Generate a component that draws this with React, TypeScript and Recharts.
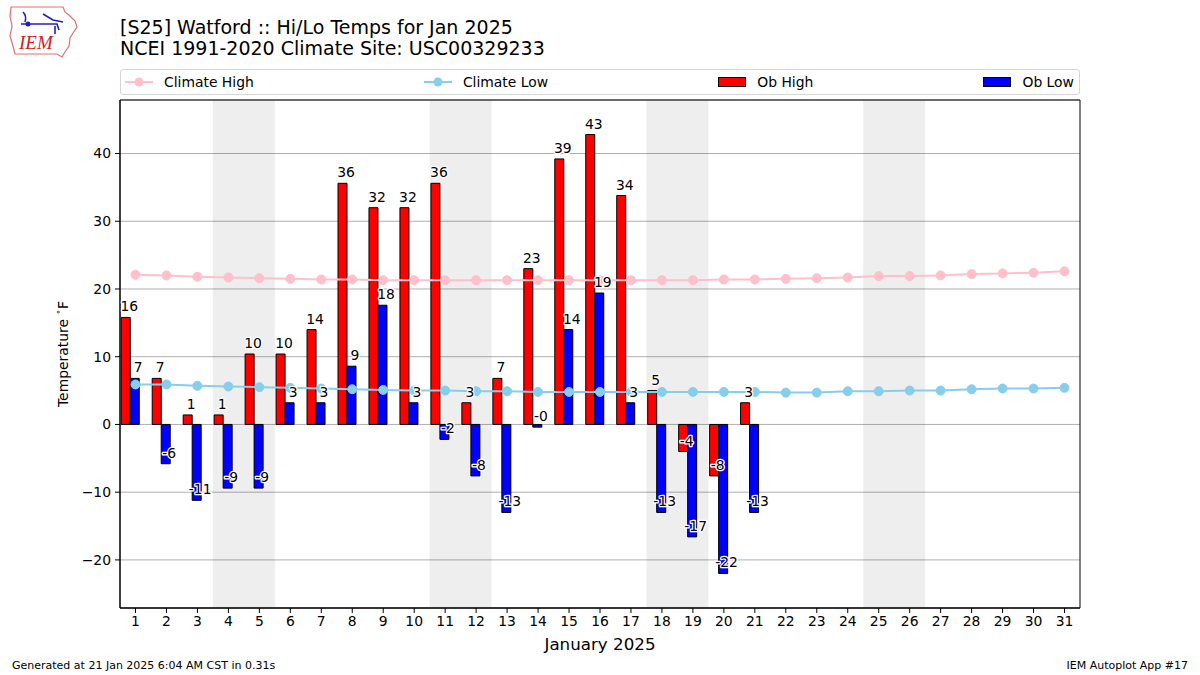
import React from "react";
import { ComposedChart, Bar, Line, XAxis, YAxis, CartesianGrid, ReferenceArea, LabelList } from "recharts";

const FONT = '"DejaVu Sans", sans-serif';

// days of January 2025
const days = [1, 2, 3, 4, 5, 6, 7, 8, 9, 10, 11, 12, 13, 14, 15, 16, 17, 18, 19, 20, 21, 22, 23, 24, 25, 26, 27, 28, 29, 30, 31];
// observed highs / lows (F), only up to the 21st
const obHigh = [15.8, 6.8, 1.4, 1.4, 10.4, 10.4, 14.0, 35.6, 32.0, 32.0, 35.6, 3.2, 6.8, 23.0, 39.2, 42.8, 33.8, 5.0, -4.0, -7.6, 3.2];
const obLow = [6.8, -5.8, -11.2, -9.4, -9.4, 3.2, 3.2, 8.6, 17.6, 3.2, -2.2, -7.6, -13.0, -0.4, 14.0, 19.4, 3.2, -13.0, -16.6, -22.0, -13.0];
// NCEI 1991-2020 normals
const climHigh = [22.1, 22.0, 21.8, 21.7, 21.6, 21.5, 21.4, 21.4, 21.3, 21.3, 21.3, 21.3, 21.3, 21.3, 21.3, 21.3, 21.3, 21.3, 21.3, 21.4, 21.4, 21.5, 21.6, 21.7, 21.9, 21.9, 22.0, 22.2, 22.3, 22.4, 22.6];
const climLow = [5.9, 5.9, 5.7, 5.6, 5.5, 5.4, 5.3, 5.2, 5.1, 5.0, 5.0, 4.9, 4.9, 4.8, 4.8, 4.8, 4.8, 4.8, 4.8, 4.8, 4.8, 4.7, 4.7, 4.9, 4.9, 5.0, 5.0, 5.2, 5.3, 5.3, 5.4];
// weekend shading
const weekends = [[4, 5], [11, 12], [18, 19], [25, 26]];
const yTicks = [-20, -10, 0, 10, 20, 30, 40];
const yDomain = [-27.1, 47.9];

const data = days.map((d, i) => ({
  day: d,
  obHigh: obHigh[i] ?? null,
  obLow: obLow[i] ?? null,
  climHigh: climHigh[i],
  climLow: climLow[i],
}));

const fmtTick = (v: number) => (v < 0 ? "\u2212" + Math.abs(v) : String(v));

const barLabel = (props: any) => {
  const { x, y, width, height, value } = props;
  if (value === null || value === undefined) return null;
  const v = Number(value);
  const top = Math.min(y, y + height);
  const bottom = Math.max(y, y + height);
  const vy = v >= 0 ? top : bottom;
  return (
    <text
      x={x + width - 1}
      y={vy - 6}
      textAnchor="middle"
      fontSize={13.9}
      fontFamily={FONT}
      fontWeight="normal"
      fill="#000"
      stroke="#fff"
      strokeWidth={2.5}
      strokeLinejoin="round"
      style={{ paintOrder: "stroke" }}
    >
      {v.toFixed(0)}
    </text>
  );
};

const YLabel = (props: any) => {
  const vb = props.viewBox || {};
  const cx = 63;
  const cy = vb.y + vb.height / 2;
  return (
    <text
      x={cx}
      y={cy}
      transform={`rotate(-90 ${cx} ${cy})`}
      textAnchor="middle"
      dominantBaseline="central"
      fontSize={13.9}
      fontFamily={FONT}
      fill="#000"
    >
      Temperature <tspan fontSize={9} dy={-5}>∘</tspan><tspan dy={5}>F</tspan>
    </text>
  );
};

const LineKey = ({ color }: { color: string }) => (
  <svg width={28} height={12} style={{ display: "block" }}>
    <line x1={0} y1={6} x2={28} y2={6} stroke={color} strokeWidth={2} />
    <circle cx={14} cy={6} r={4.5} fill={color} />
  </svg>
);

const BoxKey = ({ color }: { color: string }) => (
  <svg width={28} height={12} style={{ display: "block" }}>
    <rect x={0.5} y={1.5} width={27} height={9} fill={color} stroke="#000" strokeWidth={1} />
  </svg>
);

const legendItems = [
  { name: "Climate High", key: <LineKey color="#ffc0cb" /> },
  { name: "Climate Low", key: <LineKey color="#87ceeb" /> },
  { name: "Ob High", key: <BoxKey color="#ff0000" /> },
  { name: "Ob Low", key: <BoxKey color="#0000ff" /> },
];

const Logo = () => (
  <svg width={74} height={56} style={{ position: "absolute", left: 7, top: 4 }}>
    <path
      d="M4,3 L56,3 L58,8 L63,12 L68,17 L70,23 L66,29 L63,34 L62,42 L58,48 L55,53 L50,50 L8,50 L6,42 L3,32 L5,22 L3,12 Z"
      fill="none"
      stroke="#e07070"
      strokeWidth={1.2}
    />
    <path d="M16,8 Q20,12 18,18 M14,20 L50,20 L52,26 M36,10 L46,16 L56,18 M48,22 L48,30" fill="none" stroke="#2020c0" strokeWidth={1.6} />
    <circle cx={21} cy={20} r={2.5} fill="#2020c0" />
    <text x={12} y={45} fontFamily="Liberation Serif, serif" fontStyle="italic" fontSize={19} fill="#d02020">
      IEM
    </text>
  </svg>
);

export default function App() {
  return (
    <div style={{ position: "absolute", left: 0, top: 0, width: 1200, height: 675, background: "#fff", fontFamily: FONT, color: "#000" }}>
      <Logo />
      <div style={{ position: "absolute", left: 120, top: 17, fontSize: 19, lineHeight: "21px", whiteSpace: "nowrap" }}>
        <div>[S25] Watford :: Hi/Lo Temps for Jan 2025</div>
        <div>NCEI 1991-2020 Climate Site: USC00329233</div>
      </div>
      <div
        style={{
          position: "absolute",
          left: 120,
          top: 69,
          width: 960,
          height: 26,
          boxSizing: "border-box",
          border: "1px solid #d6d6d6",
          borderRadius: 3,
          display: "flex",
          justifyContent: "space-between",
          alignItems: "center",
          padding: "0 5px 0 4px",
          fontSize: 13.9,
        }}
      >
        {legendItems.map((it) => (
          <div key={it.name} style={{ display: "flex", alignItems: "center", gap: 11 }}>
            {it.key}
            <span>{it.name}</span>
          </div>
        ))}
      </div>
      <ComposedChart
        width={1200}
        height={675}
        data={data}
        margin={{ top: 100, right: 120, bottom: 17, left: 60 }}
        barCategoryGap="4%"
        barGap={0}
        style={{ fontFamily: FONT }}
      >
        <CartesianGrid horizontal vertical={false} stroke="#b0b0b0" strokeWidth={1} />
        {weekends.map(([a, b]) => (
          <ReferenceArea key={a} x1={a} x2={b} y1={yDomain[0]} y2={yDomain[1]} fill="#000" fillOpacity={0.068} stroke="none" />
        ))}
        <XAxis
          dataKey="day"
          type="category"
          interval={0}
          height={50}
          tickSize={5}
          tickMargin={3}
          tick={{ fill: "#000", fontSize: 13.9 }}
          axisLine={{ stroke: "#000" }}
          tickLine={{ stroke: "#000" }}
          label={{ value: "January 2025", position: "insideBottom", offset: 8, fill: "#000", fontSize: 16.7 }}
        />
        <YAxis
          type="number"
          domain={yDomain}
          ticks={yTicks}
          allowDataOverflow
          width={60}
          tickSize={5}
          tickMargin={4}
          tickFormatter={fmtTick}
          tick={{ fill: "#000", fontSize: 13.9 }}
          axisLine={{ stroke: "#000" }}
          tickLine={{ stroke: "#000" }}
          label={<YLabel />}
        />
        <Bar dataKey="obHigh" name="Ob High" fill="#ff0000" stroke="#000" strokeWidth={1} isAnimationActive={false}>
          <LabelList dataKey="obHigh" content={barLabel} />
        </Bar>
        <Bar dataKey="obLow" name="Ob Low" fill="#0000ff" stroke="#000" strokeWidth={1} isAnimationActive={false}>
          <LabelList dataKey="obLow" content={barLabel} />
        </Bar>
        <Bar dataKey="pad" fill="none" legendType="none" isAnimationActive={false} />
        <Line
          dataKey="climHigh"
          name="Climate High"
          stroke="#ffc0cb"
          strokeWidth={2}
          dot={{ r: 4.5, fill: "#ffc0cb", stroke: "#ffc0cb", strokeWidth: 1 }}
          activeDot={false}
          isAnimationActive={false}
        />
        <Line
          dataKey="climLow"
          name="Climate Low"
          stroke="#87ceeb"
          strokeWidth={2}
          dot={{ r: 4.5, fill: "#87ceeb", stroke: "#87ceeb", strokeWidth: 1 }}
          activeDot={false}
          isAnimationActive={false}
        />
        <ReferenceArea x1={1} x2={31} y1={yDomain[0]} y2={yDomain[1]} fill="none" stroke="#000" strokeWidth={1} />
      </ComposedChart>
      <div style={{ position: "absolute", left: 12, top: 659, fontSize: 11, whiteSpace: "nowrap" }}>
        Generated at 21 Jan 2025 6:04 AM CST in 0.31s
      </div>
      <div style={{ position: "absolute", right: 12, top: 659, fontSize: 11, whiteSpace: "nowrap" }}>
        IEM Autoplot App #17
      </div>
    </div>
  );
}
